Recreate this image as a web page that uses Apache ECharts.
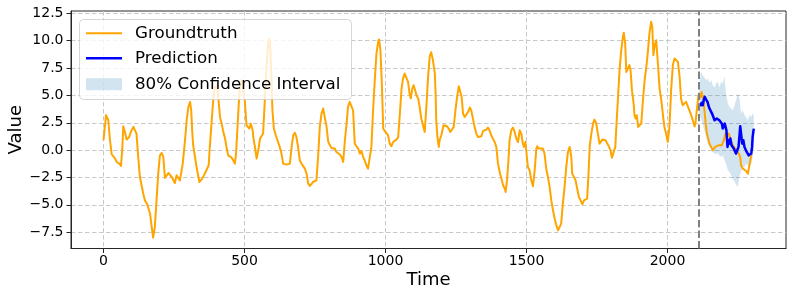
<!DOCTYPE html>
<html><head><meta charset="utf-8">
<script src="https://cdn.jsdelivr.net/npm/echarts@6/dist/echarts.min.js"></script>
<style>html,body{margin:0;padding:0;background:#fff}#c{width:793px;height:297px}</style>
</head><body><div id="c"></div>
<script>
const gtTime = [0,9,17,23,29,35,41,47,56,62,67,70,76,82,91,97,106,112,117,123,129,135,141,147,155,165,171,176,182,188,194,200,206,212,218,224,230,236,242,247,253,259,265,271,275,281,289,295,301,307,311,315,318,324,330,336,340,344,350,356,362,368,373,377,383,389,395,401,407,413,419,425,431,436,442,448,454,460,466,470,474,479,484,490,495,501,507,513,517,522,529,531,537,543,549,555,560,566,572,578,584,588,592,596,599,604,611,619,625,631,637,643,649,655,661,667,673,679,684,690,696,702,708,714,720,726,732,738,743,749,755,761,767,773,779,785,791,797,803,808,814,820,826,832,838,844,850,856,862,867,873,879,885,891,897,903,909,915,920,926,932,938,944,950,956,962,968,974,977,982,987,992,997,1003,1009,1015,1021,1027,1033,1039,1045,1051,1057,1062,1068,1074,1080,1086,1090,1095,1100,1105,1110,1116,1121,1127,1133,1139,1145,1151,1157,1162,1168,1175,1178,1180,1184,1189,1192,1198,1204,1206,1212,1218,1224,1230,1236,1242,1248,1254,1260,1266,1270,1275,1281,1287,1293,1299,1304,1310,1316,1322,1328,1334,1340,1346,1352,1358,1363,1369,1375,1381,1387,1393,1399,1405,1411,1417,1423,1426,1431,1436,1440,1446,1452,1458,1464,1470,1476,1482,1487,1491,1496,1499,1505,1511,1517,1523,1529,1535,1538,1544,1550,1558,1564,1570,1576,1582,1588,1594,1600,1606,1612,1617,1623,1629,1635,1641,1647,1653,1659,1662,1668,1674,1680,1686,1692,1698,1704,1710,1715,1720,1724,1730,1736,1741,1747,1753,1759,1763,1769,1774,1780,1786,1792,1798,1803,1806,1810,1815,1818,1824,1830,1836,1842,1845,1850,1854,1859,1865,1869,1874,1880,1883,1887,1891,1896,1901,1907,1913,1919,1925,1930,1936,1942,1946,1950,1955,1960,1966,1972,1978,1984,1989,1995,2001,2007,2013,2019,2025,2031,2037,2043,2048,2054,2060,2066,2072,2078,2084,2090,2096,2099,2104,2110,2113,2117,2121,2123,2128,2131,2135,2139,2143,2149,2155,2161,2164,2169,2175,2181,2187,2193,2196,2200,2206,2211,2217,2223,2229,2235,2241,2247,2253,2258,2261,2267,2273,2279,2285,2291,2294,2298];
const gtValue = [0.9,3.19,2.73,0.9,-0.38,-0.48,-0.78,-1.09,-1.24,-1.45,0.29,2.18,1.66,0.96,1.2,1.66,2.12,2.06,1.51,-0.63,-2.46,-3.22,-3.99,-4.6,-4.96,-5.82,-7.04,-8.01,-7.04,-4.6,-2.15,-0.5,-0.26,-0.63,-2.55,-2.46,-2.09,-2.22,-2.46,-2.61,-3.01,-2.31,-2.46,-2.77,-2.92,-1.24,0.9,2.73,3.95,4.41,3.64,1.51,0.44,0.29,-1.55,-1.7,-2.92,-3.01,-2.61,-2.31,-2.0,-2.06,-1.39,0.29,2.42,4.56,5.72,5.93,4.87,3.03,2.42,1.66,1.05,0.29,-0.48,-0.63,-0.69,-0.93,-1.24,-0.32,1.51,3.95,5.93,6.39,5.48,4.56,2.27,2.42,1.97,2.42,1.81,1.2,0.29,-0.78,-0.02,1.05,1.2,1.51,4.56,7.61,9.75,10.21,9.14,6.09,3.64,1.97,1.36,0.74,0.29,-0.32,-1.24,-1.39,-1.33,-1.45,-1.24,0.29,1.36,1.57,1.2,0.29,-0.93,-1.24,-1.39,-1.7,-2.15,-3.07,-3.28,-3.13,-2.92,-3.01,-2.77,-0.63,2.12,3.34,3.8,3.64,2.12,0.74,0.44,0.2,0.04,0.14,-0.17,-0.32,-0.4,-0.63,-1.09,0.9,2.42,3.95,4.41,4.56,3.64,0.59,0.35,0.14,-0.32,-0.08,-0.57,-0.93,-1.39,-1.7,-1.7,0.29,3.64,6.39,8.84,9.9,10.12,9.14,6.09,1.97,1.75,1.66,1.36,0.59,0.35,0.74,0.9,0.96,1.2,3.34,5.63,6.54,7.0,7.15,6.24,5.02,4.72,5.63,5.93,5.78,5.02,4.72,3.95,2.88,2.27,1.66,3.95,6.7,8.6,8.95,8.25,7.0,4.87,2.73,1.2,0.29,0.9,1.36,1.51,2.27,2.36,2.18,1.97,1.66,1.57,2.12,3.64,4.87,5.84,5.93,4.87,3.34,3.03,3.19,3.49,3.89,3.64,2.88,2.12,1.51,1.2,1.05,1.26,1.75,1.87,1.87,2.06,1.81,1.36,1.05,0.74,0.29,-1.24,-2.0,-2.61,-3.22,-3.53,-3.83,-2.77,-0.93,0.9,1.81,2.06,1.66,1.05,0.74,1.81,1.45,0.6,0.29,0.74,0.59,-1.55,-1.85,-2.77,-3.31,-1.85,0.14,0.35,0.14,0.2,0.14,-0.32,-1.7,-2.46,-3.37,-4.6,-5.51,-6.28,-6.89,-7.34,-7.4,-6.73,-4.9,-3.37,-1.55,-0.17,0.29,-0.63,-2.15,-2.46,-2.77,-3.53,-4.29,-4.6,-4.96,-4.6,-4.44,-4.44,-2.15,0.29,1.51,2.42,2.79,2.48,1.51,0.59,0.74,0.96,0.84,0.9,0.74,0.35,-0.02,-0.7,-0.8,-0.87,0.29,1.81,4.56,7.31,9.14,10.36,10.73,9.75,7.15,7.15,7.77,7.31,5.48,4.26,3.19,2.88,3.19,2.12,1.97,2.42,4.56,6.39,7.61,8.84,10.67,11.73,11.28,8.68,9.6,10.05,7.92,5.63,4.56,3.19,2.12,1.51,0.74,2.12,5.48,7.77,8.38,8.38,8.07,6.7,4.72,4.1,3.95,4.41,4.26,3.6,3.2,2.7,2.15,2.42,3.64,5.02,5.2,4.81,5.32,5.02,4.56,3.64,2.58,1.66,1.2,0.59,0.29,-0.02,-0.17,0.29,0.35,0.44,0.53,0.44,0.65,0.9,1.51,1.66,1.51,1.05,0.59,0.29,0.14,-0.02,-0.17,-0.63,-1.39,-1.7,-1.79,-1.91,-2.15,-2.15,-0.93,-0.32];

const predTime = [2116,2121,2125,2129,2132,2137,2142,2145,2149,2154,2158,2163,2167,2170,2175,2180,2184,2188,2193,2196,2200,2203,2206,2209,2213,2216,2220,2223,2227,2231,2235,2239,2243,2247,2252,2255,2258,2261,2265,2269,2273,2276,2281,2285,2288,2293,2297,2300,2302,2306];
const predValue = [4.01,4.32,4.1,4.62,4.87,4.62,4.41,4.1,3.8,3.64,3.34,3.4,2.73,2.58,2.88,3.03,2.73,2.88,2.42,1.97,2.12,2.42,2.58,1.81,0.29,0.9,0.59,1.05,0.44,0.59,0.14,0.29,-0.32,-0.17,0.29,1.2,2.18,1.51,0.59,0.9,0.29,0.14,-0.17,-0.26,-0.48,-0.63,-0.32,0.29,1.2,1.97];

const ciTime = [2113,2119,2125,2131,2137,2143,2149,2155,2161,2167,2172,2178,2184,2190,2196,2202,2208,2214,2220,2226,2231,2237,2243,2249,2255,2261,2267,2273,2279,2285,2291,2297,2302,2306];
const ciUpper = [6.0,7.15,6.85,6.63,6.39,6.54,6.15,6.39,5.9,5.72,6.09,6.24,5.72,6.24,6.09,6.76,5.02,4.26,3.95,3.8,3.64,4.01,4.56,5.17,4.81,3.34,3.64,3.19,2.97,2.73,3.19,3.03,3.34,3.19];
const ciLower = [3.19,2.88,2.42,1.81,1.2,0.59,0.29,0.08,-0.17,-0.32,-0.38,-0.26,-0.48,-0.63,-0.48,-0.87,-1.3,-1.85,-2.0,-2.31,-2.61,-2.83,-3.13,-3.37,-2.46,-1.91,-1.55,-1.55,-1.24,-1.39,-1.55,-1.24,-0.63,0.29];

const xTicks = [0,500,1000,1500,2000];
const yTicks = [-7.5,-5,-2.5,0,2.5,5,7.5,10,12.5];
const forecastStart = 2112;
const legendLabels = ['Groundtruth','Prediction','80% Confidence Interval'];

const FONT = 'DejaVu Sans';
const pair = (ts, vs) => ts.map((t, i) => [t, vs[i]]);
const fmtY = v => (v < 0 ? '\u2212' : '') + Math.abs(v).toFixed(1);
const splitStyle = {color:'#c8c8c8', type:[4.5,2.5], width:1};
const bandColor = 'rgba(31,119,180,0.2)';

const chart = echarts.init(document.getElementById('c'), null, {renderer:'canvas'});
chart.setOption({
  animation:false,
  backgroundColor:'#ffffff',
  grid:{left:71, top:11, right:7, bottom:48.5, show:true, borderColor:'#262626', borderWidth:1, backgroundColor:'transparent', containLabel:false, outerBoundsMode:'none'},
  xAxis:{type:'value', min:-115.3, max:2420.3,
    name:'Time', nameLocation:'middle', nameGap:23, nameMoveOverlap:false,
    nameTextStyle:{fontFamily:FONT, fontSize:18, color:'#000'},
    axisLine:{show:true, onZero:false, lineStyle:{color:'#262626', width:1}},
    axisTick:{show:true, customValues:xTicks, length:4.5, lineStyle:{color:'#262626', width:1}},
    axisLabel:{customValues:xTicks, fontFamily:FONT, fontSize:14, color:'#000', margin:6, formatter:v => String(v)},
    splitLine:{show:true, lineStyle:splitStyle}},
  yAxis:{type:'value', min:-9.0, max:12.72,
    name:'Value', nameLocation:'middle', nameGap:45.5, nameRotate:90, nameMoveOverlap:false,
    nameTextStyle:{fontFamily:FONT, fontSize:18, color:'#000'},
    axisLine:{show:true, onZero:false, lineStyle:{color:'#262626', width:1}},
    axisTick:{show:true, customValues:yTicks, length:4.5, lineStyle:{color:'#262626', width:1}},
    axisLabel:{customValues:yTicks, fontFamily:FONT, fontSize:14, color:'#000', margin:7.5, formatter:fmtY},
    splitLine:{show:true, lineStyle:splitStyle}},
  series:[
    {name:legendLabels[2], type:'custom', silent:true, clip:true,
      data:[[ciTime[0], ciLower[0]]], encode:{x:0, y:1},
      renderItem:(params, api) => {
        const up = ciTime.map((t, i) => api.coord([t, ciUpper[i]]));
        const lo = ciTime.map((t, i) => api.coord([t, ciLower[i]])).reverse();
        return {type:'polygon', shape:{points:up.concat(lo)}, style:{fill:bandColor, stroke:null}};
      }},
    {name:legendLabels[0], type:'line', data:pair(gtTime, gtValue), symbol:'none', showSymbol:false,
      lineStyle:{color:'#ffa500', width:2, join:'round'}, itemStyle:{color:'#ffa500'}},
    {name:legendLabels[1], type:'line', data:pair(predTime, predValue), symbol:'none', showSymbol:false,
      lineStyle:{color:'#0000ff', width:2.5, join:'round'}, itemStyle:{color:'#0000ff'},
      markLine:{silent:true, symbol:['none','none'], label:{show:false}, animation:false,
        lineStyle:{color:'#808080', type:[7.4,3.2], width:2}, data:[{xAxis:forecastStart}]}}
  ],
  graphic:[
    {type:'rect', z:100, shape:{x:79.5, y:19.5, width:272, height:80, r:4},
      style:{fill:'rgba(255,255,255,0.8)', stroke:'rgba(204,204,204,0.8)', lineWidth:1}},
    {type:'line', z:101, shape:{x1:86, y1:33.3, x2:122, y2:33.3}, style:{stroke:'#ffa500', lineWidth:2}},
    {type:'line', z:101, shape:{x1:86, y1:58.3, x2:122, y2:58.3}, style:{stroke:'#0000ff', lineWidth:2.5}},
    {type:'rect', z:101, shape:{x:86, y:78.3, width:36, height:12}, style:{fill:bandColor}},
    {type:'text', z:101, x:135, y:34, style:{text:legendLabels[0], fontFamily:FONT, fontSize:16.7, fill:'#000', verticalAlign:'middle'}},
    {type:'text', z:101, x:135, y:59, style:{text:legendLabels[1], fontFamily:FONT, fontSize:16.7, fill:'#000', verticalAlign:'middle'}},
    {type:'text', z:101, x:135, y:85, style:{text:legendLabels[2], fontFamily:FONT, fontSize:16.7, fill:'#000', verticalAlign:'middle'}}
  ]
});
</script></body></html>
